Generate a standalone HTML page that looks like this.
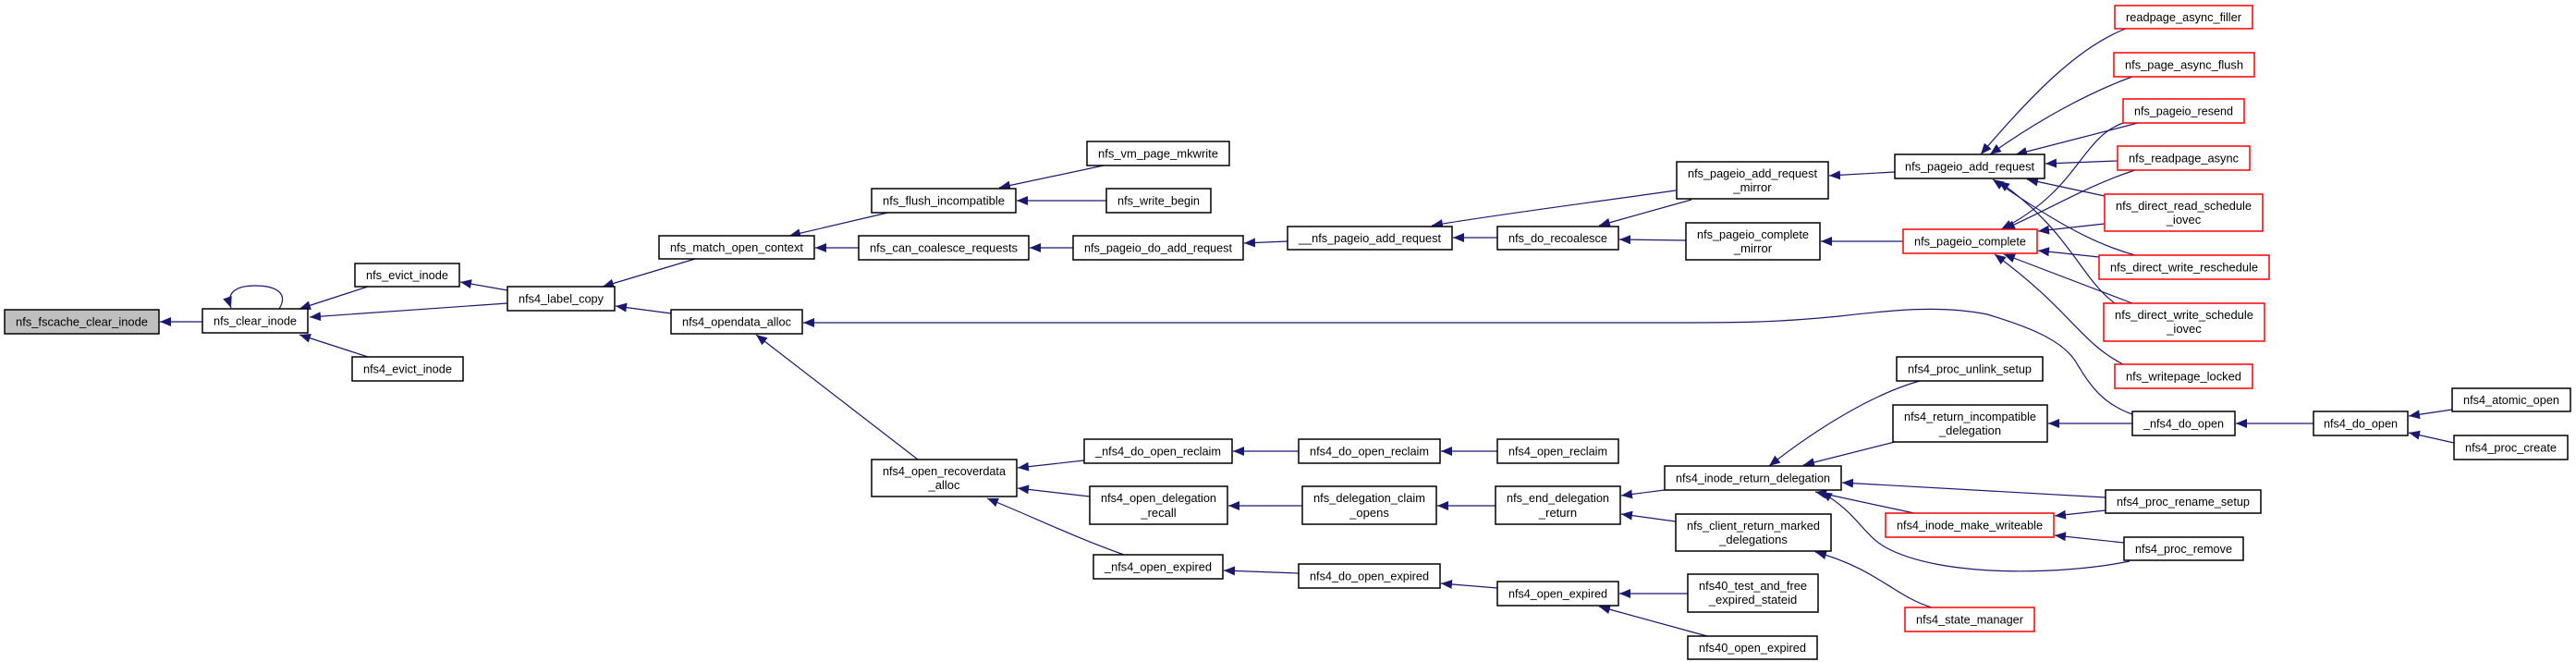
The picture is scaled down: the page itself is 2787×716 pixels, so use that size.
<!DOCTYPE html>
<html><head><meta charset="utf-8"><style>
html,body{margin:0;padding:0;background:#fff;}
svg{display:block;}
text{font-family:"Liberation Sans",sans-serif;font-size:13px;fill:#000;text-anchor:middle;}
.n rect{fill:#fff;stroke:#000;stroke-width:1.5;}
.r rect{fill:#fff;stroke:#ff0000;stroke-width:1.5;}
.e{fill:none;stroke:#191970;stroke-width:1.2;marker-end:url(#a);}
</style></head><body>
<svg width="2787" height="716" viewBox="0 0 2787 716" xmlns="http://www.w3.org/2000/svg">
<defs><marker id="a" markerUnits="userSpaceOnUse" markerWidth="13" markerHeight="10" refX="12" refY="5" orient="auto"><path d="M0,0 L12,5 L0,10 z" fill="#191970"/></marker></defs>

<!-- edges -->
<path class="e" d="M219,348 L173,348"/>
<path class="e" d="M302,334 C312,318 300,309 276,309 C256,309 244,316 250,333"/>
<path class="e" d="M398,310 L324,334"/>
<path class="e" d="M549,328 L335,343"/>
<path class="e" d="M398,386 L324,362"/>
<path class="e" d="M549,314 L498,305"/>
<path class="e" d="M752,280 L652,310"/>
<path class="e" d="M726,339 L666,331"/>
<path class="e" d="M965,229 L854,255"/>
<path class="e" d="M929,268 L882,268"/>
<path class="e" d="M1194,179 L1081,203"/>
<path class="e" d="M1197,217 L1100,217"/>
<path class="e" d="M1161,268 L1114,268"/>
<path class="e" d="M1393,261 L1346,263"/>
<path class="e" d="M1813,206 C1700,222 1620,232 1549,244"/>
<path class="e" d="M1620,257 L1572,257"/>
<path class="e" d="M1830,216 L1730,244"/>
<path class="e" d="M1825,260 L1752,259"/>
<path class="e" d="M2050,186 L1979,190"/>
<path class="e" d="M2059,261 L1970,261"/>
<path class="e" d="M2300,31 C2250,50 2200,100 2143,167"/>
<path class="e" d="M2307,83 C2260,100 2205,130 2153,167"/>
<path class="e" d="M2313,133 L2181,167"/>
<path class="e" d="M2291,174 L2213,177"/>
<path class="e" d="M2277,212 L2193,194"/>
<path class="e" d="M2310,276 C2270,265 2230,245 2156,194"/>
<path class="e" d="M2288,328 C2250,300 2240,250 2162,196"/>
<path class="e" d="M2297,133 C2250,150 2250,205 2165,248"/>
<path class="e" d="M2310,184 C2260,200 2220,225 2168,248"/>
<path class="e" d="M2277,242 L2205,250"/>
<path class="e" d="M2271,278 L2205,271"/>
<path class="e" d="M2307,328 L2168,275"/>
<path class="e" d="M2297,394 C2250,370 2240,335 2158,275"/>
<path class="e" d="M2307,448 C2270,435 2258,410 2248,395 C2235,370 2200,355 2150,340 C2100,330 2050,335 1990,342 C1920,349 1880,349 1800,349 L869,349"/>
<path class="e" d="M993,497 L818,362"/>
<path class="e" d="M1173,498 L1101,506"/>
<path class="e" d="M1179,537 L1101,528"/>
<path class="e" d="M1216,600 C1160,580 1120,560 1068,539"/>
<path class="e" d="M1405,488 L1334,488"/>
<path class="e" d="M1620,488 L1559,488"/>
<path class="e" d="M1409,547 L1329,547"/>
<path class="e" d="M1618,547 L1555,547"/>
<path class="e" d="M1801,530 L1754,536"/>
<path class="e" d="M1813,564 L1754,556"/>
<path class="e" d="M1405,620 L1324,617"/>
<path class="e" d="M1620,636 L1559,631"/>
<path class="e" d="M1826,642 L1752,642"/>
<path class="e" d="M1847,688 L1730,656"/>
<path class="e" d="M2077,412 C2030,425 1970,460 1914,504"/>
<path class="e" d="M2050,478 L1951,503"/>
<path class="e" d="M2278,538 L1993,522"/>
<path class="e" d="M2071,555 L1964,532"/>
<path class="e" d="M2304,607 C2230,622 2100,625 2040,592 C2015,578 2010,555 1970,532"/>
<path class="e" d="M2307,458 L2216,458"/>
<path class="e" d="M2503,458 L2419,458"/>
<path class="e" d="M2653,443 L2606,450"/>
<path class="e" d="M2655,479 L2606,468"/>
<path class="e" d="M2278,552 L2223,558"/>
<path class="e" d="M2298,587 L2223,579"/>
<path class="e" d="M2090,657 C2050,645 2030,615 1964,597"/>

<!-- nodes -->
<g class="n"><rect x="5" y="335" width="167" height="26" style="fill:#bfbfbf"/><text x="88.5" y="352.5" textLength="143" lengthAdjust="spacingAndGlyphs">nfs_fscache_clear_inode</text></g>
<g class="n"><rect x="219" y="334" width="114" height="26"/><text x="276" y="351.5" textLength="90" lengthAdjust="spacingAndGlyphs">nfs_clear_inode</text></g>
<g class="n"><rect x="384" y="285" width="113" height="25"/><text x="440.5" y="302" textLength="89" lengthAdjust="spacingAndGlyphs">nfs_evict_inode</text></g>
<g class="n"><rect x="381" y="386" width="120" height="26"/><text x="441" y="403.5" textLength="96" lengthAdjust="spacingAndGlyphs">nfs4_evict_inode</text></g>
<g class="n"><rect x="549" y="310" width="116" height="26"/><text x="607" y="327.5" textLength="92" lengthAdjust="spacingAndGlyphs">nfs4_label_copy</text></g>
<g class="n"><rect x="713" y="255" width="168" height="25"/><text x="797" y="272" textLength="144" lengthAdjust="spacingAndGlyphs">nfs_match_open_context</text></g>
<g class="n"><rect x="726" y="335" width="142" height="26"/><text x="797" y="352.5" textLength="118" lengthAdjust="spacingAndGlyphs">nfs4_opendata_alloc</text></g>
<g class="n"><rect x="1176" y="153" width="154" height="26"/><text x="1253" y="170.5" textLength="130" lengthAdjust="spacingAndGlyphs">nfs_vm_page_mkwrite</text></g>
<g class="n"><rect x="943" y="204" width="156" height="26"/><text x="1021" y="221.5" textLength="132" lengthAdjust="spacingAndGlyphs">nfs_flush_incompatible</text></g>
<g class="n"><rect x="1197" y="204" width="113" height="26"/><text x="1253.5" y="221.5" textLength="89" lengthAdjust="spacingAndGlyphs">nfs_write_begin</text></g>
<g class="n"><rect x="929" y="255" width="184" height="26"/><text x="1021" y="272.5" textLength="160" lengthAdjust="spacingAndGlyphs">nfs_can_coalesce_requests</text></g>
<g class="n"><rect x="1161" y="255" width="184" height="26"/><text x="1253" y="272.5" textLength="160" lengthAdjust="spacingAndGlyphs">nfs_pageio_do_add_request</text></g>
<g class="n"><rect x="1393" y="245" width="178" height="25"/><text x="1482" y="262" textLength="154" lengthAdjust="spacingAndGlyphs">__nfs_pageio_add_request</text></g>
<g class="n"><rect x="1620" y="245" width="131" height="25"/><text x="1685.5" y="262" textLength="107" lengthAdjust="spacingAndGlyphs">nfs_do_recoalesce</text></g>
<g class="n"><rect x="943" y="497" width="157" height="40"/><text x="1021.5" y="514" textLength="133" lengthAdjust="spacingAndGlyphs">nfs4_open_recoverdata</text><text x="1021.5" y="529">_alloc</text></g>
<g class="n"><rect x="1173" y="475" width="160" height="26"/><text x="1253" y="492.5" textLength="136" lengthAdjust="spacingAndGlyphs">_nfs4_do_open_reclaim</text></g>
<g class="n"><rect x="1405" y="475" width="153" height="26"/><text x="1481.5" y="492.5" textLength="129" lengthAdjust="spacingAndGlyphs">nfs4_do_open_reclaim</text></g>
<g class="n"><rect x="1620" y="475" width="131" height="26"/><text x="1685.5" y="492.5" textLength="107" lengthAdjust="spacingAndGlyphs">nfs4_open_reclaim</text></g>
<g class="n"><rect x="1179" y="526" width="149" height="41"/><text x="1253.5" y="543" textLength="125" lengthAdjust="spacingAndGlyphs">nfs4_open_delegation</text><text x="1253.5" y="559">_recall</text></g>
<g class="n"><rect x="1409" y="526" width="145" height="41"/><text x="1481.5" y="543" textLength="121" lengthAdjust="spacingAndGlyphs">nfs_delegation_claim</text><text x="1481.5" y="559">_opens</text></g>
<g class="n"><rect x="1618" y="526" width="135" height="41"/><text x="1685.5" y="543" textLength="111" lengthAdjust="spacingAndGlyphs">nfs_end_delegation</text><text x="1685.5" y="559">_return</text></g>
<g class="n"><rect x="1183" y="600" width="140" height="26"/><text x="1253" y="617.5" textLength="116" lengthAdjust="spacingAndGlyphs">_nfs4_open_expired</text></g>
<g class="n"><rect x="1405" y="610" width="153" height="26"/><text x="1481.5" y="627.5" textLength="129" lengthAdjust="spacingAndGlyphs">nfs4_do_open_expired</text></g>
<g class="n"><rect x="1620" y="629" width="131" height="26"/><text x="1685.5" y="646.5" textLength="107" lengthAdjust="spacingAndGlyphs">nfs4_open_expired</text></g>

<g class="r"><rect x="2288" y="6" width="149" height="25"/><text x="2362.5" y="23" textLength="125" lengthAdjust="spacingAndGlyphs">readpage_async_filler</text></g>
<g class="r"><rect x="2287" y="57" width="152" height="26"/><text x="2363" y="74.5" textLength="128" lengthAdjust="spacingAndGlyphs">nfs_page_async_flush</text></g>
<g class="r"><rect x="2297" y="107" width="131" height="26"/><text x="2362.5" y="124.5" textLength="107" lengthAdjust="spacingAndGlyphs">nfs_pageio_resend</text></g>
<g class="r"><rect x="2291" y="158" width="143" height="26"/><text x="2362.5" y="175.5" textLength="119" lengthAdjust="spacingAndGlyphs">nfs_readpage_async</text></g>
<g class="r"><rect x="2277" y="210" width="171" height="40"/><text x="2362.5" y="227" textLength="147" lengthAdjust="spacingAndGlyphs">nfs_direct_read_schedule</text><text x="2362.5" y="242">_iovec</text></g>
<g class="r"><rect x="2271" y="276" width="184" height="26"/><text x="2363" y="293.5" textLength="160" lengthAdjust="spacingAndGlyphs">nfs_direct_write_reschedule</text></g>
<g class="r"><rect x="2276" y="328" width="174" height="41"/><text x="2363" y="345" textLength="150" lengthAdjust="spacingAndGlyphs">nfs_direct_write_schedule</text><text x="2363" y="360">_iovec</text></g>
<g class="r"><rect x="2288" y="394" width="149" height="26"/><text x="2362.5" y="411.5" textLength="125" lengthAdjust="spacingAndGlyphs">nfs_writepage_locked</text></g>
<g class="n"><rect x="1814" y="175" width="164" height="40"/><text x="1896" y="192" textLength="140" lengthAdjust="spacingAndGlyphs">nfs_pageio_add_request</text><text x="1896" y="207">_mirror</text></g>
<g class="n"><rect x="2050" y="167" width="162" height="26"/><text x="2131" y="184.5" textLength="140" lengthAdjust="spacingAndGlyphs">nfs_pageio_add_request</text></g>
<g class="n"><rect x="1824" y="241" width="145" height="40"/><text x="1896.5" y="258" textLength="121" lengthAdjust="spacingAndGlyphs">nfs_pageio_complete</text><text x="1896.5" y="273">_mirror</text></g>
<g class="r"><rect x="2059" y="248" width="145" height="26"/><text x="2131.5" y="265.5" textLength="121" lengthAdjust="spacingAndGlyphs">nfs_pageio_complete</text></g>
<g class="n"><rect x="2052" y="386" width="158" height="26"/><text x="2131" y="403.5" textLength="134" lengthAdjust="spacingAndGlyphs">nfs4_proc_unlink_setup</text></g>
<g class="n"><rect x="2048" y="438" width="167" height="40"/><text x="2131.5" y="455" textLength="143" lengthAdjust="spacingAndGlyphs">nfs4_return_incompatible</text><text x="2131.5" y="470">_delegation</text></g>
<g class="n"><rect x="2307" y="445" width="111" height="26"/><text x="2362.5" y="462.5" textLength="87" lengthAdjust="spacingAndGlyphs">_nfs4_do_open</text></g>
<g class="n"><rect x="2503" y="445" width="102" height="26"/><text x="2554" y="462.5" textLength="80" lengthAdjust="spacingAndGlyphs">nfs4_do_open</text></g>
<g class="n"><rect x="2653" y="420" width="128" height="25"/><text x="2717" y="437" textLength="104" lengthAdjust="spacingAndGlyphs">nfs4_atomic_open</text></g>
<g class="n"><rect x="2655" y="471" width="123" height="26"/><text x="2716.5" y="488.5" textLength="99" lengthAdjust="spacingAndGlyphs">nfs4_proc_create</text></g>
<g class="n"><rect x="1801" y="504" width="191" height="26"/><text x="1896.5" y="521.5" textLength="167" lengthAdjust="spacingAndGlyphs">nfs4_inode_return_delegation</text></g>
<g class="n"><rect x="2278" y="530" width="168" height="25"/><text x="2362" y="547" textLength="144" lengthAdjust="spacingAndGlyphs">nfs4_proc_rename_setup</text></g>
<g class="r"><rect x="2040" y="555" width="182" height="26"/><text x="2131" y="572.5" textLength="158" lengthAdjust="spacingAndGlyphs">nfs4_inode_make_writeable</text></g>
<g class="n"><rect x="2298" y="581" width="129" height="25"/><text x="2362.5" y="598" textLength="105" lengthAdjust="spacingAndGlyphs">nfs4_proc_remove</text></g>
<g class="n"><rect x="1813" y="556" width="168" height="40"/><text x="1897" y="573" textLength="144" lengthAdjust="spacingAndGlyphs">nfs_client_return_marked</text><text x="1897" y="588">_delegations</text></g>
<g class="n"><rect x="1826" y="621" width="141" height="41"/><text x="1896.5" y="638" textLength="117" lengthAdjust="spacingAndGlyphs">nfs40_test_and_free</text><text x="1896.5" y="653">_expired_stateid</text></g>
<g class="r"><rect x="2061" y="657" width="140" height="26"/><text x="2131" y="674.5" textLength="116" lengthAdjust="spacingAndGlyphs">nfs4_state_manager</text></g>
<g class="n"><rect x="1826" y="688" width="140" height="25"/><text x="1896" y="705" textLength="116" lengthAdjust="spacingAndGlyphs">nfs40_open_expired</text></g>
</svg>
</body></html>
